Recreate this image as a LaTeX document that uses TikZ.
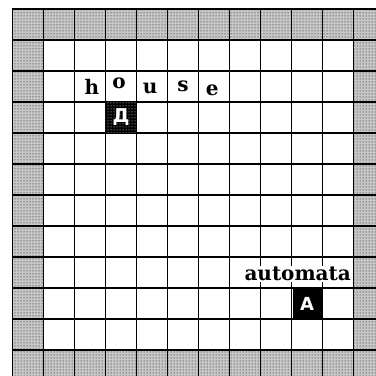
\documentclass[tikz,border=0pt]{standalone}
\usepackage{fontspec}
\newfontfamily\boardfont{DejaVu Serif}
\newfontfamily\agentfont{DejaVu Sans}
\usetikzlibrary{patterns}

\tikzset{
    wall/.style={fill=black!22, postaction={pattern=dots, pattern color=black}},
    gridline/.style={line width=1.4pt, black},
    letter/.style={font=\boardfont\bfseries\fontsize{20}{20}\selectfont, fill=white, inner sep=0.6pt},
    agentcell/.style={fill=black, minimum size=29pt, inner sep=0pt, text=white}
}

\begin{document}
\begin{tikzpicture}[x=31pt, y=-31pt]

    % page frame
    \useasboundingbox (-0.403,-0.29) rectangle (11.726,11.839);
    \clip (-0.403,-0.29) rectangle (11.726,11.839);

    % walls round the board
    \fill[wall] (0,0) rectangle (12,12);
    \fill[white] (1,1) rectangle (11,11);

    % grid
    \foreach \k in {0,...,12} {
        \draw[gridline] (\k,0) -- (\k,12);
        \draw[gridline] (0,\k) -- (12,\k);
    }

    % house
    \fill[black] (3,3) rectangle (4,4);
    \fill[pattern=dots, pattern color=white] (3,3) rectangle (4,4);
    \node[text=white, font=\agentfont\bfseries\fontsize{19}{19}\selectfont, inner sep=0pt] (home) at (3.5,3.5) {Д};

    \node[letter] (h) at (2.56,2.5) {h};
    \node[letter] (o) at (3.44,2.39) {o};
    \node[letter] (u) at (4.44,2.55) {u};
    \node[letter] (s) at (5.50,2.48) {s};
    \node[letter] (e) at (6.44,2.61) {e};

    % automata
    \node[letter] (automata) at (9.2,8.55) {automata};
    \node[agentcell, font=\agentfont\bfseries\fontsize{18}{18}\selectfont] (agent) at (9.5,9.5) {A};

\end{tikzpicture}
\end{document}
